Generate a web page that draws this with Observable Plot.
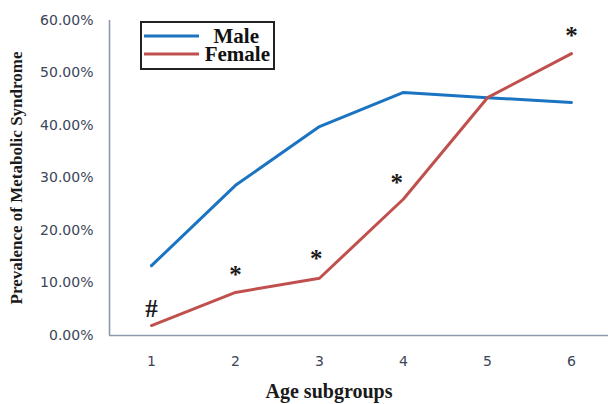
<!DOCTYPE html>
<html>
<head>
<meta charset="utf-8">
<script src="https://cdn.jsdelivr.net/npm/d3@7"></script>
<script src="https://cdn.jsdelivr.net/npm/@observablehq/plot@0.6"></script>
<style>
  html, body { margin: 0; padding: 0; background: #fff; }
  #chart { width: 608px; height: 404px; position: relative; }
</style>
</head>
<body>
<div id="chart"></div>
<script>
// ---- data ----
const groups = [1, 2, 3, 4, 5, 6];
const male   = [0.133, 0.286, 0.398, 0.463, 0.453, 0.444];
const female = [0.019, 0.082, 0.109, 0.260, 0.453, 0.537];
const yTicks = [0, 0.1, 0.2, 0.3, 0.4, 0.5, 0.6];
const noteGroups = [1, 2, 2.96, 3.92, 6];
const noteValues = [0.050, 0.116, 0.145, 0.290, 0.570];
const noteLabels = ["#", "*", "*", "*", "*"];
const seriesNames = ["Male", "Female"];
const seriesColors = ["#1b74c1", "#c0504d"];

const rows = [
  ...groups.map((g, i) => ({series: "Male", group: g, value: male[i]})),
  ...groups.map((g, i) => ({series: "Female", group: g, value: female[i]}))
];
const notes = noteGroups.map((g, i) => ({group: g, value: noteValues[i], label: noteLabels[i]}));

const serif = "'Liberation Serif', 'DejaVu Serif', serif";
const sans = "'DejaVu Sans', sans-serif";

const chart = Plot.plot({
  width: 608,
  height: 404,
  marginLeft: 109,
  marginTop: 20,
  marginBottom: 69,
  marginRight: 0,
  style: {background: "#fff", overflow: "visible"},
  x: {type: "linear", domain: [0.5, 6.5], range: [109, 613]},
  y: {domain: [0, 0.6]},
  color: {domain: seriesNames, range: seriesColors},
  marks: [
    Plot.ruleY([0], {x1: 0.5, x2: 6.5, stroke: "#8b9bab", strokeWidth: 1.6}),
    Plot.ruleX([0.5], {y1: 0, y2: 0.6, stroke: "#8b9bab", strokeWidth: 1.6}),
    Plot.axisY(yTicks, {tickSize: 0, tickPadding: 16, tickFormat: d3.format(".2%"), fontSize: 14, fontFamily: sans, fill: "#3c4558", label: null}),
    Plot.axisX(groups, {tickSize: 0, tickPadding: 21, tickFormat: d => String(d), fontSize: 14, fontFamily: sans, fill: "#3c4558", label: null}),
    Plot.line(rows, {x: "group", y: "value", z: "series", stroke: "series", strokeWidth: 3}),
    Plot.text(notes, {x: "group", y: "value", text: "label", fontFamily: serif, fontWeight: "bold", fontSize: 25, fill: "#1a1a1a"})
  ]
});

document.getElementById("chart").appendChild(chart);

const svg = d3.select(chart);
// axis titles
svg.append("text")
  .attr("transform", "translate(22,178) rotate(-90)")
  .attr("text-anchor", "middle")
  .attr("font-family", serif)
  .attr("font-weight", "bold")
  .attr("font-size", 17)
  .attr("fill", "#1a1a1a")
  .text("Prevalence of Metabolic Syndrome");
svg.append("text")
  .attr("x", 329).attr("y", 398)
  .attr("text-anchor", "middle")
  .attr("font-family", serif)
  .attr("font-weight", "bold")
  .attr("font-size", 20)
  .attr("fill", "#1a1a1a")
  .text("Age subgroups");

// legend
const lg = svg.append("g");
lg.append("rect").attr("x", 141).attr("y", 22).attr("width", 133).attr("height", 47)
  .attr("fill", "#fff").attr("stroke", "#222").attr("stroke-width", 2);
seriesNames.forEach((name, i) => {
  const yy = 36 + i * 18;
  lg.append("line").attr("x1", 144).attr("x2", 199).attr("y1", yy).attr("y2", yy)
    .attr("stroke", seriesColors[i]).attr("stroke-width", 3);
  lg.append("text").attr("x", i === 0 ? 259 : 270).attr("y", yy + 7)
    .attr("text-anchor", "end")
    .attr("font-family", serif).attr("font-weight", "bold").attr("font-size", 21)
    .attr("fill", "#111").text(name);
});
</script>
</body>
</html>
